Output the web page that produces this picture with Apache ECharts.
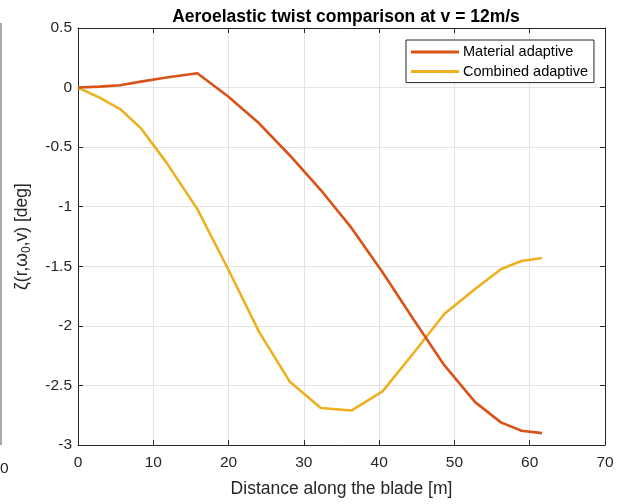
<!DOCTYPE html>
<html>
<head>
<meta charset="utf-8">
<script src="https://cdn.jsdelivr.net/npm/echarts@6/dist/echarts.min.js"></script>
<style>
html,body{margin:0;padding:0;background:#fff;}
#chart{width:627px;height:504px;}
</style>
</head>
<body>
<div id="chart"></div>
<script>
var radius = [0, 2.8667, 5.6, 8.3333, 11.75, 15.85, 19.95, 24.05, 28.15, 32.25, 36.35, 40.45, 44.55, 48.65, 52.75, 56.1667, 58.9, 61.6333];
var materialAdaptive = [0, 0.008, 0.02, 0.05, 0.085, 0.12, -0.075, -0.30, -0.57, -0.86, -1.18, -1.55, -1.945, -2.33, -2.64, -2.81, -2.88, -2.90];
var combinedAdaptive = [0, -0.084, -0.18, -0.34, -0.63, -1.02, -1.525, -2.05, -2.47, -2.69, -2.71, -2.55, -2.23, -1.90, -1.69, -1.525, -1.455, -1.43];
var seriesNames = ['Material adaptive', 'Combined adaptive'];
var seriesColors = ['#D95319', '#EDB120'];

function pairs(xs, ys){ return xs.map(function(x,i){ return [x, ys[i]]; }); }

var font = 'Liberation Sans, Arial, Helvetica, sans-serif';
var axisCol = '#262626';
var chart = echarts.init(document.getElementById('chart'), null, {renderer:'canvas'});
var baseX = {
  type:'value', min:0, max:70, interval:10,
  axisLine:{show:true, onZero:false, lineStyle:{color:axisCol, width:1}},
  axisTick:{show:true, inside:true, length:5, lineStyle:{color:axisCol}},
  splitLine:{show:false}
};
var baseY = {
  type:'value', min:-3, max:0.5, interval:0.5,
  axisLine:{show:true, onZero:false, lineStyle:{color:axisCol, width:1}},
  axisTick:{show:true, inside:true, length:5, lineStyle:{color:axisCol}},
  splitLine:{show:false}
};
chart.setOption({
  animation:false,
  backgroundColor:'#fff',
  title:{
    text:'Aeroelastic twist comparison at v = 12m/s',
    left:341, textAlign:'center', top:3,
    textStyle:{fontFamily:font, fontSize:17.5, fontWeight:'bold', color:'#000'}
  },
  grid:{left:78, right:22, top:28, bottom:59, containLabel:false},
  xAxis:[
    Object.assign({}, baseX, {
      position:'bottom',
      name:'Distance along the blade [m]', nameLocation:'middle', nameGap:35,
      nameTextStyle:{fontFamily:font, fontSize:17.5, color:axisCol},
      axisLabel:{show:true, fontFamily:font, fontSize:15.5, color:axisCol, margin:10},
      splitLine:{show:true, lineStyle:{color:'#e3e3e3', width:1}}
    }),
    Object.assign({}, baseX, {position:'top', axisLabel:{show:false}})
  ],
  yAxis:[
    Object.assign({}, baseY, {
      position:'left',
      name:'{a|ζ(r,ω}{s|0}{a|,v) [deg]}', nameLocation:'middle', nameGap:45, nameRotate:90,
      nameTextStyle:{fontFamily:font, fontSize:17.5, color:axisCol,
        rich:{a:{fontFamily:font, fontSize:17.5, color:axisCol},
              s:{fontFamily:font, fontSize:12, color:axisCol, verticalAlign:'bottom', padding:[9,0,0,0]}}},
      axisLabel:{show:true, fontFamily:font, fontSize:15.5, color:axisCol, margin:6},
      splitLine:{show:true, lineStyle:{color:'#e3e3e3', width:1}}
    }),
    Object.assign({}, baseY, {position:'right', axisLabel:{show:false}})
  ],
  legend:{
    orient:'vertical', left:406, top:40,
    data:seriesNames,
    icon:'rect', itemWidth:48, itemHeight:3, itemGap:3.6,
    padding:[4,6,3,5],
    borderColor:axisCol, borderWidth:1, backgroundColor:'#fff',
    textStyle:{fontFamily:font, fontSize:14.5, lineHeight:16, color:'#000', padding:[0,0,0,-1]}
  },
  graphic:[
    {type:'line', shape:{x1:1, y1:23, x2:1, y2:445}, style:{stroke:'#555', lineWidth:1}, silent:true},
    {type:'text', left:0, top:461, style:{text:'0', fontFamily:font, fontSize:15.5, fill:axisCol}}
  ],
  series:[
    {name:seriesNames[0], type:'line', data:pairs(radius, materialAdaptive), showSymbol:false, symbol:'none',
     lineStyle:{color:seriesColors[0], width:2.6}, itemStyle:{color:seriesColors[0]}, z:3},
    {name:seriesNames[1], type:'line', data:pairs(radius, combinedAdaptive), showSymbol:false, symbol:'none',
     lineStyle:{color:seriesColors[1], width:2.6}, itemStyle:{color:seriesColors[1]}, z:2}
  ]
});
</script>
</body>
</html>
